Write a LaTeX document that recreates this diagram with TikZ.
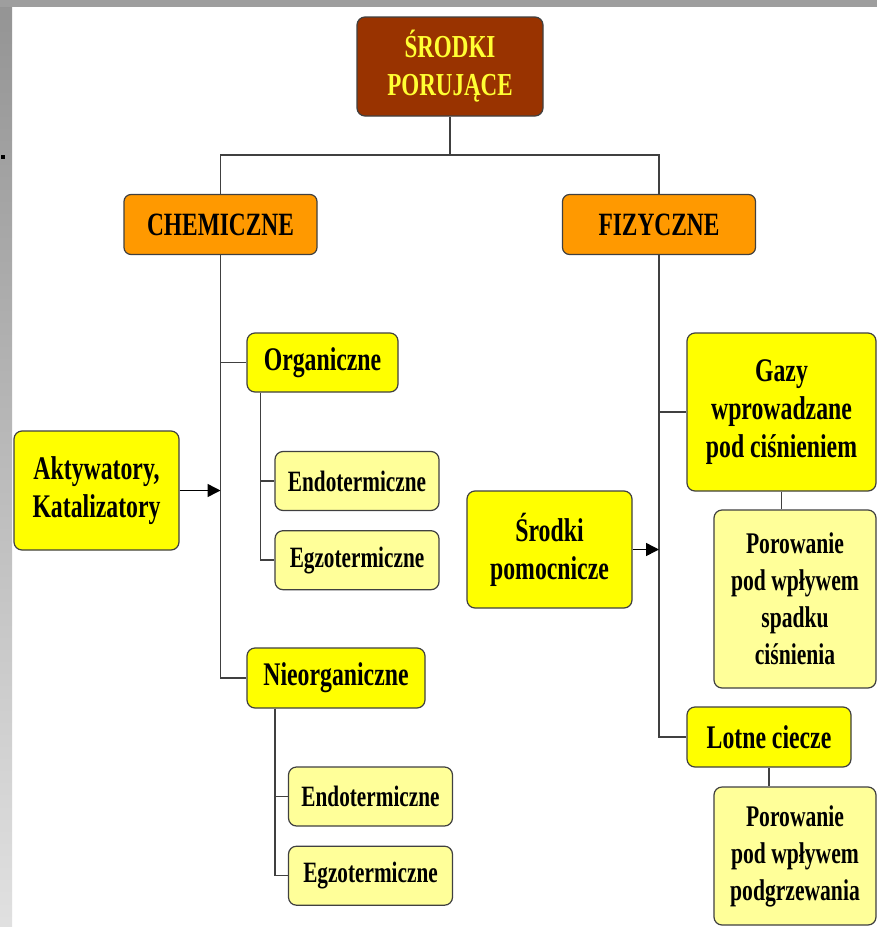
\documentclass[tikz,border=0pt]{standalone}
\usepackage{fontspec}
\setmainfont{Liberation Serif}[FakeStretch=0.72]
\usepackage{tikz}
\usetikzlibrary{arrows.meta,positioning}
\definecolor{brownbox}{HTML}{993300}
\definecolor{orangebox}{HTML}{FF9900}
\definecolor{yellowbox}{HTML}{FFFF00}
\definecolor{paleyellow}{HTML}{FFFF99}
\definecolor{titleyellow}{HTML}{FFFF33}
\definecolor{linegray}{HTML}{404040}
\tikzset{
    %Define style for boxes
    toprect/.style={
           rectangle,
           rounded corners=8pt,
           draw=linegray, line width=1.2pt,
           inner sep=0pt,
           align=center,
           font=\fontsize{32}{38}\selectfont\bfseries,
           text=titleyellow,
           fill=brownbox},
    mainrect/.style={
           rectangle,
           rounded corners=7pt,
           draw=linegray, line width=1.2pt,
           inner sep=0pt,
           minimum width=193pt,
           minimum height=60pt,
           align=center,
           font=\fontsize{32.5}{38}\selectfont\bfseries,
           fill=orangebox},
    midrect/.style={
           rectangle,
           rounded corners=8pt,
           draw=linegray, line width=1.2pt,
           inner sep=0pt,
           align=center,
           font=\fontsize{33}{38}\selectfont\bfseries,
           fill=yellowbox},
    leafrect/.style={
           rectangle,
           rounded corners=8pt,
           draw=linegray, line width=1.2pt,
           inner sep=0pt,
           minimum width=164pt,
           minimum height=59pt,
           align=center,
           font=\fontsize{29.5}{38}\selectfont\bfseries,
           fill=paleyellow},
    % Define line styles
    lin/.style={
           draw=linegray,
           line width=1.5pt},
    pil/.style={
           -{Triangle[length=13pt,width=13pt]},
           draw=black,
           line width=1.5pt}
}
\begin{document}
\begin{tikzpicture}[x=1pt,y=-1pt]
\useasboundingbox (0,0) rectangle (877,927);
% slide frame
\fill[white] (0,0) rectangle (877,927);
\shade[top color=black!42, bottom color=black!12] (0,0) rectangle (12,927);
\fill[black!38] (0,0) rectangle (877,7);
\fill[black] (1,155) rectangle (5,159);

\node[toprect, minimum width=186pt, minimum height=99pt] (1) at (450,66.5) {ŚRODKI\\PORUJĄCE};
\node[mainrect] (2) at (220.5,224.5) {CHEMICZNE};
\node[mainrect] (3) at (659,224.5) {FIZYCZNE};
\node[midrect, minimum width=151pt, minimum height=59pt] (4) at (322.5,362.5) {Organiczne};
\node[leafrect] (5) at (357,481) {Endotermiczne};
\node[leafrect, below=19pt of 5] (6) {Egzotermiczne};
\node[midrect, minimum width=178pt, minimum height=60pt] (7) at (336,678) {Nieorganiczne};
\node[leafrect] (8) at (370.5,796.5) {Endotermiczne};
\node[leafrect, below=19pt of 8] (9) {Egzotermiczne};
\node[midrect, minimum width=165pt, minimum height=119pt] (10) at (96.5,490.5) {Aktywatory,\\Katalizatory};
\node[midrect, minimum width=189pt, minimum height=158pt] (11) at (781.5,412) {Gazy\\wprowadzane\\pod ciśnieniem};
\node[leafrect, minimum width=162pt, minimum height=178pt, font=\fontsize{30}{37}\selectfont\bfseries] (12) at (795,599) {Porowanie\\pod wpływem\\spadku\\ciśnienia};
\node[midrect, minimum width=164pt, minimum height=60pt] (13) at (769,737) {Lotne ciecze};
\node[leafrect, minimum width=162pt, minimum height=138pt, font=\fontsize{30}{37}\selectfont\bfseries] (14) at (795,856) {Porowanie\\pod wpływem\\podgrzewania};
\node[midrect, minimum width=165pt, minimum height=117pt] (15) at (549.5,549.5) {Środki\\pomocnicze};
\coordinate (bar) at (450,155);

\draw[lin] (1) -- (bar);
\draw[lin] (2) |- (bar) -| (3);
\draw[lin] (2) |- (4);
\draw[lin] (2) |- (7);
\draw[lin] (3) |- (11);
\draw[lin] (3) |- (13);
\draw[lin] ([xshift=-14pt]5.west |- 4.south) |- (5);
\draw[lin] ([xshift=-14pt]5.west |- 4.south) |- (6);
\draw[lin] ([xshift=-13pt]8.west |- 7.south) |- (8);
\draw[lin] ([xshift=-13pt]8.west |- 7.south) |- (9);
\draw[lin] (11.south) -- (11.south |- 12.north);
\draw[lin] (13.south) -- (13.south |- 14.north);
\draw[pil] (10) -- (10 -| 2);
\draw[pil] (15) -- (15 -| 3);
\end{tikzpicture}
\end{document}
